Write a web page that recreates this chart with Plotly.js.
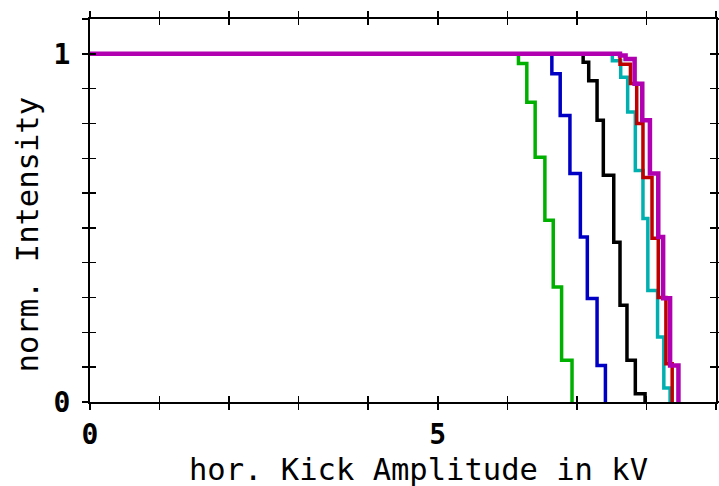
<!DOCTYPE html>
<html>
<head>
<meta charset="utf-8">
<script src="https://cdn.plot.ly/plotly-3.0.1.min.js"></script>
<style>
  html, body { margin: 0; padding: 0; background: #ffffff; }
  #chart { width: 719px; height: 486px; }
</style>
</head>
<body>
<div id="chart"></div>
<script>
// Transmitted intensity vs. horizontal kick amplitude (step curves)
const greenX   = [0, 6.16, 6.28, 6.40, 6.54, 6.66, 6.78, 6.93];
const greenY   = [1, 0.972, 0.861, 0.703, 0.522, 0.33, 0.12, 0];

const blueX    = [0, 6.64, 6.76, 6.90, 7.05, 7.15, 7.29, 7.41];
const blueY    = [1, 0.943, 0.823, 0.656, 0.474, 0.297, 0.105, 0];

const blackX   = [0, 7.09, 7.17, 7.29, 7.38, 7.53, 7.62, 7.72, 7.84, 7.98];
const blackY   = [1, 0.976, 0.923, 0.809, 0.651, 0.459, 0.278, 0.12, 0.024, 0];

const cyanX    = [0, 7.51, 7.63, 7.73, 7.84, 7.95, 8.02, 8.16, 8.25, 8.34];
const cyanY    = [1, 0.98, 0.933, 0.833, 0.665, 0.527, 0.32, 0.187, 0.04, 0];

const redX     = [0, 7.62, 7.77, 7.86, 7.95, 8.08, 8.17, 8.28, 8.37];
const redY     = [1, 0.97, 0.915, 0.80, 0.645, 0.47, 0.30, 0.11, 0];

const magentaX = [0, 7.62, 7.70, 7.83, 7.94, 8.05, 8.17, 8.24, 8.34, 8.46];
const magentaY = [1, 0.995, 0.985, 0.914, 0.809, 0.656, 0.474, 0.298, 0.105, 0];

const xTickVals = [0, 1, 2, 3, 4, 5, 6, 7, 8, 9];
const xTickText = ['0', '', '', '', '', '5', '', '', '', ''];
const yTickVals = [0, 0.1, 0.2, 0.3, 0.4, 0.5, 0.6, 0.7, 0.8, 0.9, 1.0, 1.1];
const yTickText = ['0', '', '', '', '', '', '', '', '', '', '1', ''];

const xTitle = 'hor. Kick Amplitude in kV';
const yTitle = 'norm. Intensity';

const FONT = '"DejaVu Sans Mono", "Liberation Mono", monospace';

function stepTrace(x, y, color, width) {
  return {
    x: x, y: y, type: 'scatter', mode: 'lines',
    line: { shape: 'hv', color: color, width: width },
    hoverinfo: 'skip', showlegend: false
  };
}

const traces = [
  stepTrace(greenX, greenY, 'rgb(0,176,0)', 3.5),
  stepTrace(blueX, blueY, 'rgb(0,0,196)', 3.5),
  stepTrace(blackX, blackY, 'rgb(0,0,0)', 3.5),
  stepTrace(cyanX, cyanY, 'rgb(0,176,176)', 3.5),
  stepTrace(redX, redY, 'rgb(190,0,0)', 3.5),
  stepTrace(magentaX, magentaY, 'rgb(176,0,176)', 4.5),
  // empty trace that activates the overlay axes carrying the inward ticks
  { x: [null], y: [null], xaxis: 'x2', yaxis: 'y2', type: 'scatter', mode: 'lines',
    hoverinfo: 'skip', showlegend: false }
];

const axisCommon = {
  showgrid: false, zeroline: false, showline: true, linecolor: '#000', linewidth: 2,
  mirror: 'ticks', ticklen: 6, tickwidth: 1.5, tickcolor: '#000'
};

const layout = {
  width: 719, height: 486,
  margin: { l: 90, r: 3, t: 19, b: 84 },
  paper_bgcolor: '#fff', plot_bgcolor: '#fff',
  font: { family: FONT, color: '#000' },
  xaxis: Object.assign({}, axisCommon, {
    range: [0, 9], ticks: 'outside', tickmode: 'array',
    tickvals: xTickVals, ticktext: xTickText,
    tickfont: { family: FONT, size: 28, weight: 'bold' }
  }),
  yaxis: Object.assign({}, axisCommon, {
    range: [0, 1.1], ticks: 'outside', tickmode: 'array',
    tickvals: yTickVals, ticktext: yTickText, ticklabelstandoff: 6,
    tickfont: { family: FONT, size: 28, weight: 'bold' }
  }),
  xaxis2: Object.assign({}, axisCommon, {
    overlaying: 'x', range: [0, 9], ticks: 'inside', tickmode: 'array',
    tickvals: xTickVals, showticklabels: false
  }),
  yaxis2: Object.assign({}, axisCommon, {
    overlaying: 'y', range: [0, 1.1], ticks: 'inside', tickmode: 'array',
    tickvals: yTickVals, showticklabels: false
  }),
  annotations: [
    { text: xTitle, xref: 'paper', yref: 'paper', x: 0.524, y: -0.176,
      xanchor: 'center', yanchor: 'middle', showarrow: false,
      font: { family: FONT, size: 30.5, color: '#000' } },
    { text: yTitle, xref: 'paper', yref: 'paper', x: -0.1, y: 0.436,
      xanchor: 'center', yanchor: 'middle', textangle: -90, showarrow: false,
      font: { family: FONT, size: 30.5, color: '#000' } }
  ]
};

Plotly.newPlot('chart', traces, layout, { displayModeBar: false, staticPlot: true });
</script>
</body>
</html>
